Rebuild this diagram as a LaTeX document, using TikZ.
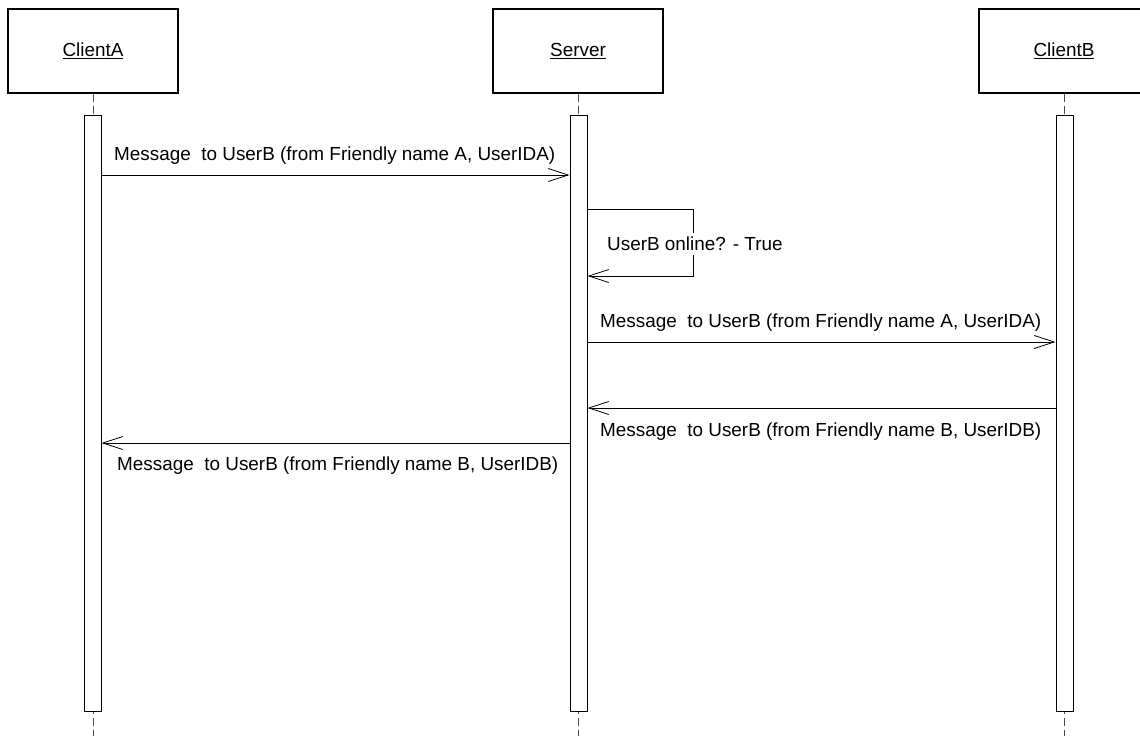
\documentclass[tikz,border=0pt]{standalone}
\usepackage{fontspec}
\setmainfont{Liberation Sans}
\usetikzlibrary{arrows.meta}
\begin{document}
\begin{tikzpicture}[x=1pt,y=-1pt,
  every node/.style={font=\fontsize{18.9}{22}\selectfont},
  actor/.style={draw, line width=1.1pt, minimum width=170pt, minimum height=84pt, inner sep=0pt},
  bar/.style={draw, line width=1pt, fill=white, minimum width=17pt, minimum height=596pt, inner sep=0pt},
  life/.style={line width=1pt, dash pattern=on 8pt off 4pt, black!70},
  msg/.style={line width=0.8pt, -{Straight Barb[length=20pt,width=13pt,line width=0.8pt]}},
  lbl/.style={anchor=west, inner sep=0pt, fill=white}
]
\useasboundingbox (0,0) rectangle (1140,736);
\clip (0,0) rectangle (1140,736);
% actors
\node[actor] (A) at (93,51) {\raisebox{-2pt}{\underline{ClientA}}};
\node[actor] (S) at (578,51) {\raisebox{-2pt}{\underline{Server}}};
\node[actor] (B) at (1064,51) {\raisebox{-2pt}{\underline{ClientB}}};
% lifelines
\coordinate (Aend) at (93,736);
\coordinate (Send) at (578,736);
\coordinate (Bend) at (1064,736);
\draw[life] (A.south) -- (Aend);
\draw[life] (S.south) -- (Send);
\draw[life] (B.south) -- (Bend);
% activation bars
\node[bar] (barA) at (92.5,413) {};
\node[bar] (barS) at (578.5,413) {};
\node[bar] (barB) at (1064.5,413) {};
% message 1
\draw[msg] (barA.east |- 0,175) -- (barS.west |- 0,175);
\node[lbl] (m1) at (114,156) {Message\ \ to UserB (from Friendly name A, UserIDA)};
% self message
\coordinate (s1) at (693,209);
\coordinate (s2) at (693,276);
\draw[msg] (barS.east |- s1) -- (s1) -- (s2) -- (barS.east |- s2);
\node[lbl, inner xsep=2pt, inner ysep=4pt] (m2) at (605,244) {UserB online? - True};
% message 3
\draw[msg] (barS.east |- 0,342) -- (barB.west |- 0,342);
\node[lbl] (m3) at (600,323) {Message\ \ to UserB (from Friendly name A, UserIDA)};
% message 4
\draw[msg] (barB.west |- 0,408) -- (barS.east |- 0,408);
\node[lbl] (m4) at (600,432) {Message\ \ to UserB (from Friendly name B, UserIDB)};
% message 5
\draw[msg] (barS.west |- 0,443) -- (barA.east |- 0,443);
\node[lbl] (m5) at (117,466) {Message\ \ to UserB (from Friendly name B, UserIDB)};
\end{tikzpicture}
\end{document}
